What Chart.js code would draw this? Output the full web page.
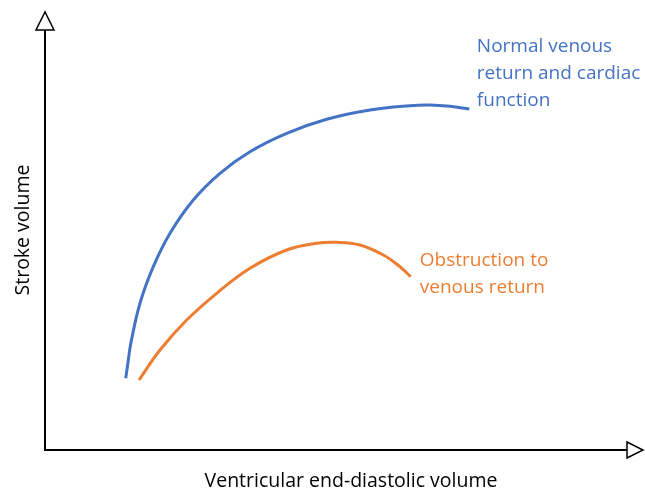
<!DOCTYPE html>
<html>
<head>
<meta charset="utf-8">
<script src="https://cdn.jsdelivr.net/npm/chart.js@4/dist/chart.umd.min.js"></script>
<style>
  html, body { margin: 0; padding: 0; background: #fff; }
  #wrap { width: 645px; height: 491px; }
</style>
</head>
<body>
<div id="wrap"><canvas id="c"></canvas></div>
<script>
// Curve shapes (abstract units, x 0-100, y 0-100)
const normalX = [13.87, 14.27, 14.75, 16.32, 18.61, 21.48, 25.48, 30.07, 35.22, 41.53, 48.40, 55.84, 62.71, 66.15, 69.59, 72.90];
const normalY = [17.07, 20.95, 25.40, 34.93, 43.64, 51.60, 59.52, 65.88, 71.02, 75.40, 78.74, 80.95, 81.98, 82.14, 81.83, 81.19];
const obstrX = [16.15, 19.76, 24.35, 29.50, 35.22, 41.53, 46.68, 50.12, 54.12, 58.13, 61.00, 62.84];
const obstrY = [16.67, 23.81, 30.95, 37.31, 43.26, 47.62, 49.21, 49.45, 48.81, 46.43, 43.64, 41.26];

const normalLabel = ['Normal venous', 'return and cardiac', 'function'];
const obstrLabel = ['Obstruction to', 'venous return'];
const xTitle = 'Ventricular end-diastolic volume';
const yTitle = 'Stroke volume';

const BLUE = '#4472C4';
const ORANGE = '#ED7D31';
const FONT = '"Open Sans", "Liberation Sans", sans-serif';

const pts = (xs, ys) => xs.map((x, i) => ({ x, y: ys[i] }));

// axis arrows, axis titles and curve labels
const decorPlugin = {
    id: 'decor',
    afterDraw(chart) {
        const ctx = chart.ctx;
        const { left, right, top, bottom } = chart.chartArea;
        ctx.save();

        // open triangle arrow heads
        ctx.strokeStyle = '#000';
        ctx.fillStyle = '#fff';
        ctx.lineWidth = 1.5;
        ctx.beginPath();
        ctx.moveTo(left - 9, top); ctx.lineTo(left + 9, top); ctx.lineTo(left, top - 18); ctx.closePath();
        ctx.fill(); ctx.stroke();
        ctx.beginPath();
        ctx.moveTo(right, bottom - 8); ctx.lineTo(right, bottom + 8); ctx.lineTo(right + 16, bottom); ctx.closePath();
        ctx.fill(); ctx.stroke();

        // axis titles
        ctx.fillStyle = '#000';
        ctx.font = '19.5px ' + FONT;
        ctx.textAlign = 'center';
        ctx.textBaseline = 'middle';
        ctx.fillText(xTitle, 351, 481);
        ctx.save();
        ctx.translate(23, 230);
        ctx.rotate(-Math.PI / 2);
        ctx.fillText(yTitle, 0, 0);
        ctx.restore();

        // curve labels
        ctx.font = '19px ' + FONT;
        ctx.textAlign = 'left';
        const xs = chart.scales.x, ys = chart.scales.y;
        const drawLines = (lines, x, y, color) => {
            ctx.fillStyle = color;
            const px = xs.getPixelForValue(x), py = ys.getPixelForValue(y);
            lines.forEach((t, i) => ctx.fillText(t, px, py + i * 27));
        };
        drawLines(normalLabel, 74.2, 96.0, BLUE);
        drawLines(obstrLabel, 64.4, 45.2, ORANGE);
        ctx.restore();
    }
};

const axisOpts = {
    min: 0, max: 100,
    ticks: { display: false },
    grid: { display: false, drawTicks: false },
    border: { display: true, color: '#000', width: 2 }
};

new Chart(document.getElementById('c'), {
    type: 'scatter',
    data: {
        datasets: [
            {
                label: 'Normal venous return and cardiac function',
                data: pts(normalX, normalY),
                showLine: true, borderColor: BLUE, borderWidth: 3,
                pointRadius: 0, tension: 0.4
            },
            {
                label: 'Obstruction to venous return',
                data: pts(obstrX, obstrY),
                showLine: true, borderColor: ORANGE, borderWidth: 3,
                pointRadius: 0, tension: 0.4
            }
        ]
    },
    options: {
        responsive: true,
        maintainAspectRatio: false,
        animation: false,
        layout: { padding: { left: 45, top: 30, right: 18, bottom: 41 } },
        plugins: { legend: { display: false }, tooltip: { enabled: false } },
        scales: { x: { ...axisOpts }, y: { ...axisOpts } }
    },
    plugins: [decorPlugin]
});
</script>
</body>
</html>
